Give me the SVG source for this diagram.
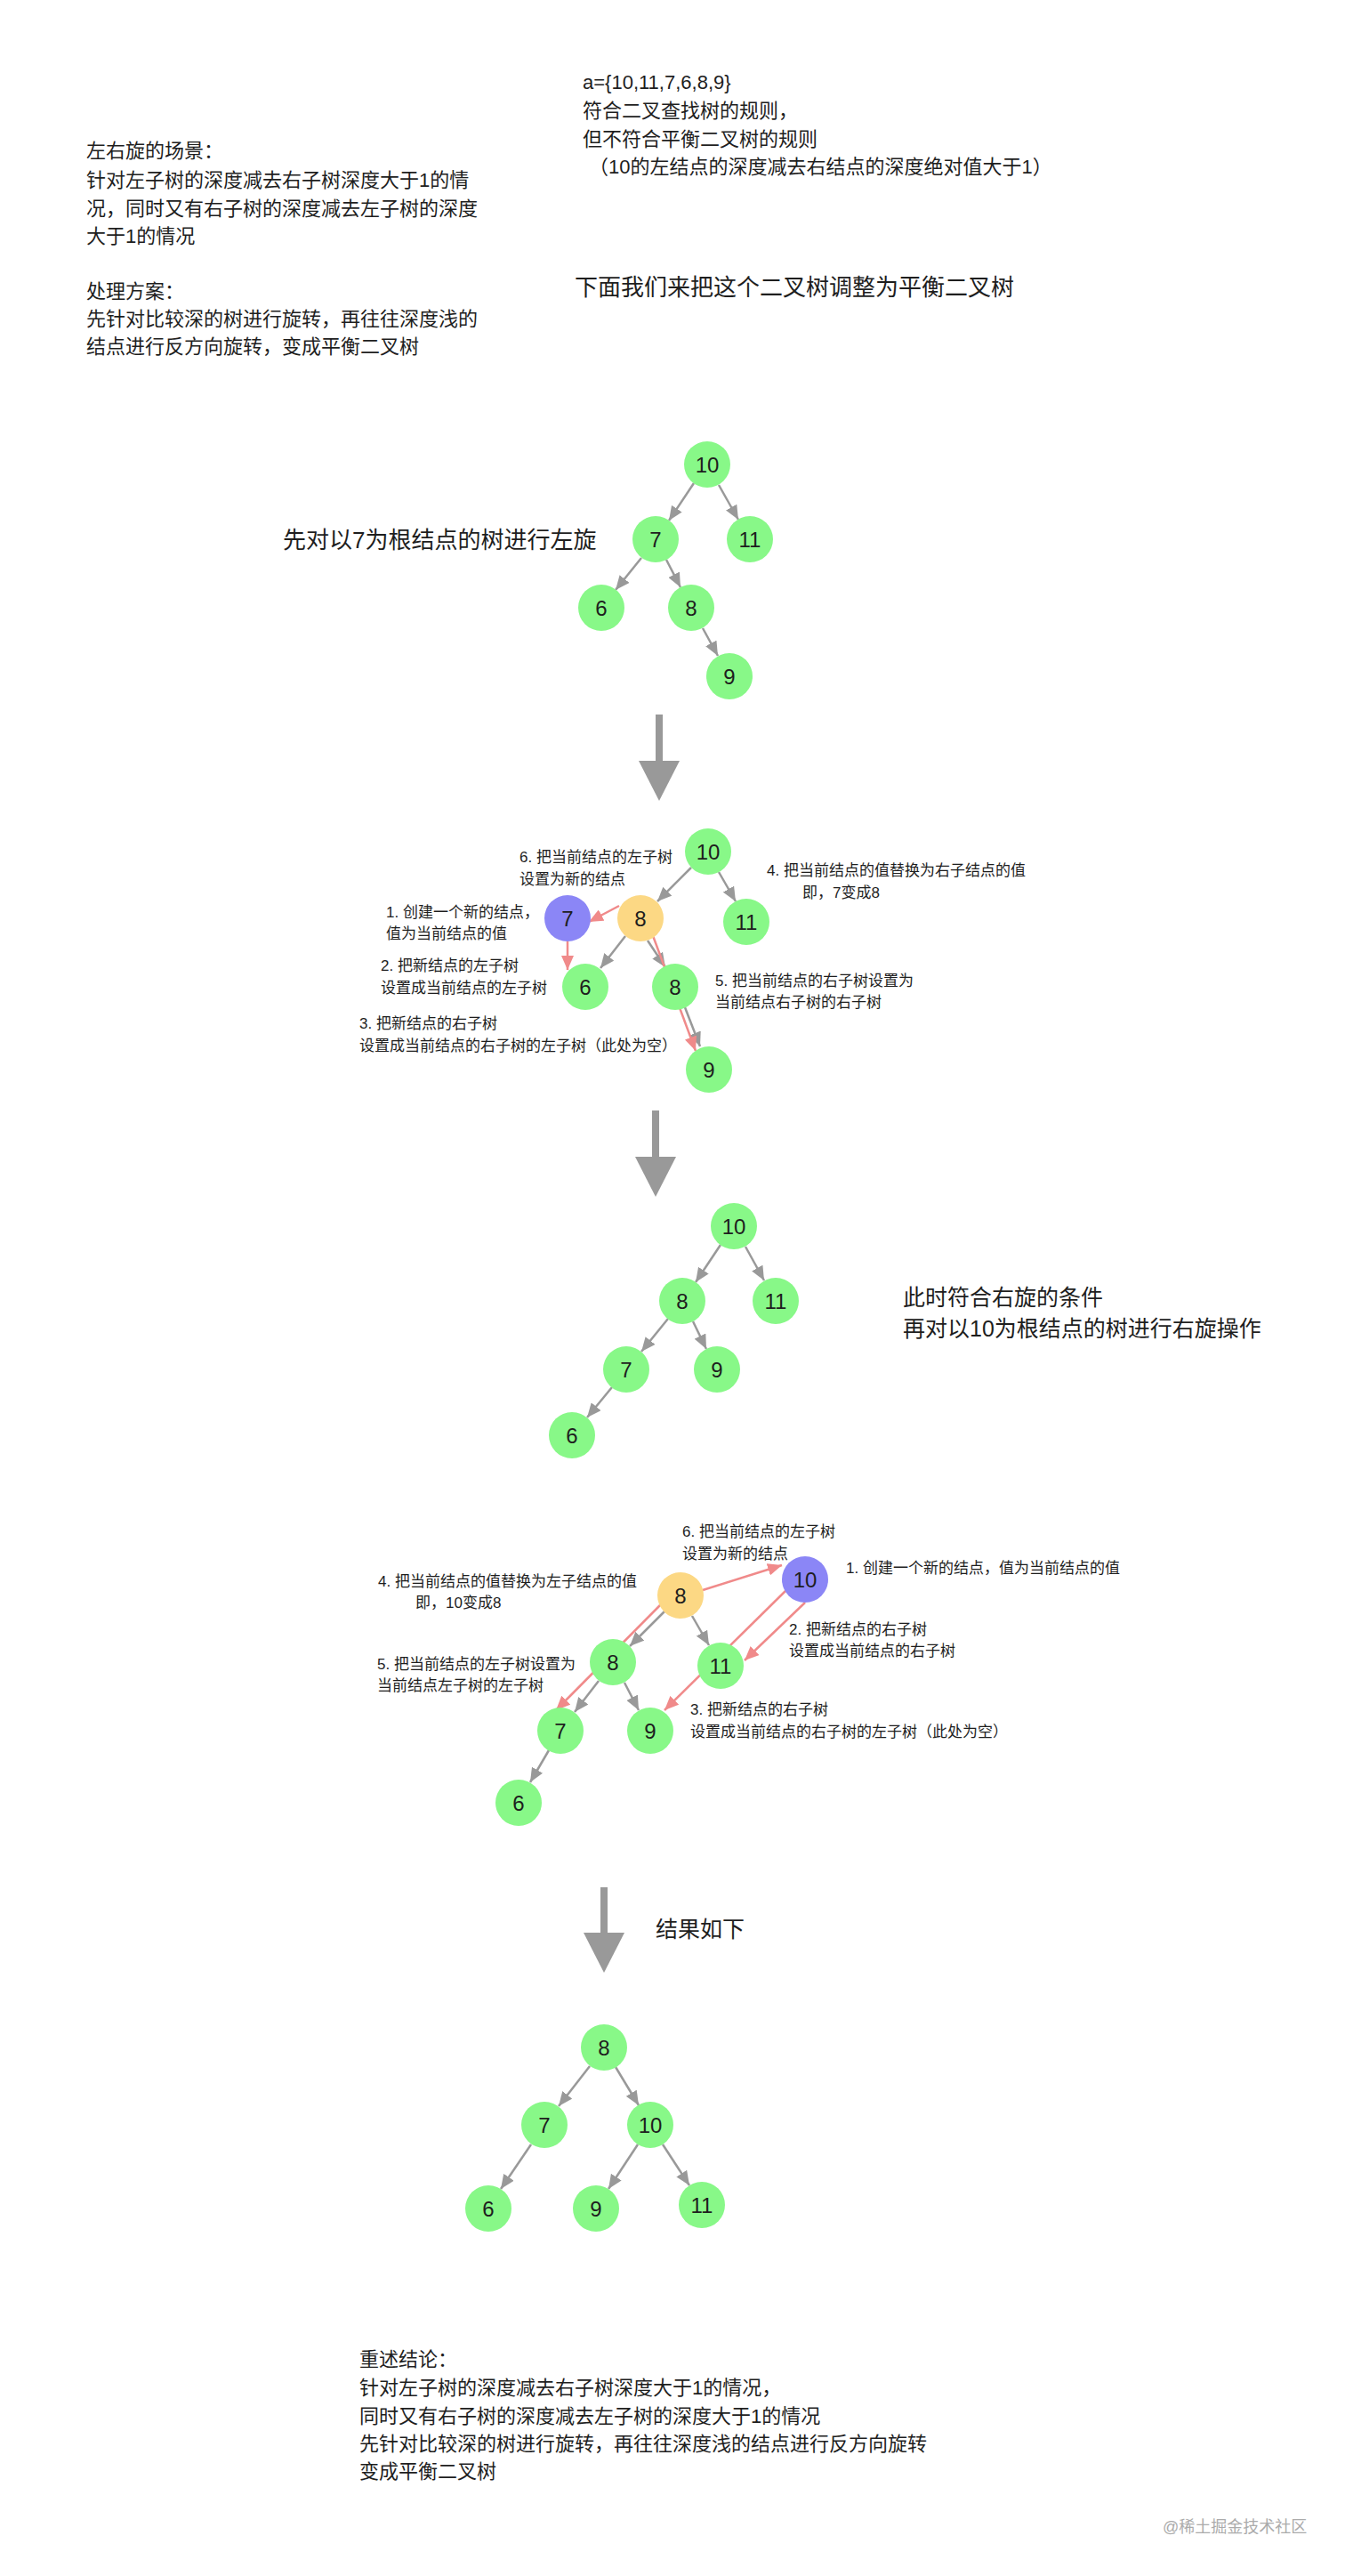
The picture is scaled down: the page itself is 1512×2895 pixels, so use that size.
<svg xmlns="http://www.w3.org/2000/svg" width="1512" height="2895" viewBox="0 0 1512 2895">
<defs>
<style>
text{font-family:"Liberation Sans","Noto Sans CJK SC",sans-serif;fill:#1e1e1e;dominant-baseline:central}
.t22{font-size:22px}
.t17{font-size:17px}
.t25{font-size:25px}
.t26{font-size:26px}
.wm{font-size:18px;fill:#ababab}
.n{font-size:24px;text-anchor:middle}
.g{fill:#88f888}
.p{fill:#8b86f6}
.y{fill:#fcd884}
.e{stroke:#999;stroke-width:2.5;fill:none;marker-end:url(#ag)}
.r{stroke:#f08a8a;stroke-width:2.5;fill:none;marker-end:url(#ar)}
.big{fill:#999}
</style>
<marker id="ag" markerUnits="userSpaceOnUse" markerWidth="16" markerHeight="14" refX="16" refY="7" orient="auto"><path d="M0,0 L16,7 L0,14 z" fill="#999"/></marker>
<marker id="ar" markerUnits="userSpaceOnUse" markerWidth="16" markerHeight="14" refX="16" refY="7" orient="auto"><path d="M0,0 L16,7 L0,14 z" fill="#f08a8a"/></marker>
</defs>
<rect width="1512" height="2895" fill="#fff"/>

<g id="intro-left">
<text class="t22" x="97" y="169">左右旋的场景：</text>
<text class="t22" x="97" y="202">针对左子树的深度减去右子树深度大于1的情</text>
<text class="t22" x="97" y="234">况，同时又有右子树的深度减去左子树的深度</text>
<text class="t22" x="97" y="265">大于1的情况</text>
<text class="t22" x="97" y="327">处理方案：</text>
<text class="t22" x="97" y="358">先针对比较深的树进行旋转，再往往深度浅的</text>
<text class="t22" x="97" y="389">结点进行反方向旋转，变成平衡二叉树</text>
</g>
<g id="intro-right">
<text class="t22" x="655" y="92">a={10,11,7,6,8,9}</text>
<text class="t22" x="655" y="124">符合二叉查找树的规则，</text>
<text class="t22" x="655" y="156">但不符合平衡二叉树的规则</text>
<text class="t22" x="662" y="187">（10的左结点的深度减去右结点的深度绝对值大于1）</text>
<text class="t26" x="646" y="323">下面我们来把这个二叉树调整为平衡二叉树</text>
</g>

<g id="connectors">
<!-- tree 1 -->
<line class="e" x1="780" y1="543" x2="752" y2="585"/>
<line class="e" x1="808" y1="545" x2="830" y2="584"/>
<line class="e" x1="721" y1="627" x2="692" y2="663"/>
<line class="e" x1="749" y1="629" x2="765" y2="660"/>
<line class="e" x1="790" y1="706" x2="807" y2="737"/>
<!-- tree 2 -->
<line class="e" x1="777" y1="975" x2="739" y2="1013"/>
<line class="e" x1="808" y1="980" x2="827" y2="1013"/>
<line class="e" x1="703" y1="1052" x2="675" y2="1088"/>
<line class="e" x1="728" y1="1057" x2="748" y2="1087"/>
<line class="e" x1="768" y1="1127" x2="787" y2="1176"/>
<line class="r" x1="696" y1="1018" x2="662" y2="1036"/>
<line class="r" x1="638" y1="1058" x2="638" y2="1090"/>
<line class="r" x1="733" y1="1049" x2="782" y2="1181"/>
<!-- tree 3 -->
<line class="e" x1="810" y1="1399" x2="782" y2="1441"/>
<line class="e" x1="838" y1="1401" x2="859" y2="1439"/>
<line class="e" x1="751" y1="1482" x2="721" y2="1519"/>
<line class="e" x1="779" y1="1485" x2="794" y2="1516"/>
<line class="e" x1="688" y1="1559" x2="660" y2="1593"/>
<!-- tree 4 -->
<line class="e" x1="747" y1="1811" x2="708" y2="1850"/>
<line class="e" x1="778" y1="1816" x2="797" y2="1849"/>
<line class="e" x1="673" y1="1889" x2="646" y2="1924"/>
<line class="e" x1="702" y1="1891" x2="718" y2="1922"/>
<line class="e" x1="617" y1="1967" x2="596" y2="2003"/>
<line class="r" x1="790" y1="1787" x2="879" y2="1759"/>
<line class="r" x1="905" y1="1801" x2="837" y2="1866"/>
<line class="r" x1="884" y1="1787" x2="747" y2="1922"/>
<line class="r" x1="743" y1="1803" x2="625" y2="1922"/>
<!-- final tree -->
<line class="e" x1="663" y1="2322" x2="628" y2="2367"/>
<line class="e" x1="692" y1="2323" x2="718" y2="2366"/>
<line class="e" x1="597" y1="2410" x2="563" y2="2460"/>
<line class="e" x1="717" y1="2410" x2="684" y2="2460"/>
<line class="e" x1="745" y1="2410" x2="775" y2="2456"/>
</g>

<g id="big-arrows">
<rect class="big" x="737" y="803" width="8" height="54"/><polygon class="big" points="718,855 764,855 741,900"/>
<rect class="big" x="733" y="1248" width="8" height="54"/><polygon class="big" points="714,1300 760,1300 737,1345"/>
<rect class="big" x="675" y="2121" width="8" height="53"/><polygon class="big" points="656,2172 702,2172 679,2217"/>
</g>

<g id="tree1">
<g id="t1n10"><circle class="g" cx="795" cy="522" r="26"/><text class="n" x="795" y="522">10</text></g>
<g id="t1n7"><circle class="g" cx="737" cy="606" r="26"/><text class="n" x="737" y="606">7</text></g>
<g id="t1n11"><circle class="g" cx="843" cy="606" r="26"/><text class="n" x="843" y="606">11</text></g>
<g id="t1n6"><circle class="g" cx="676" cy="683" r="26"/><text class="n" x="676" y="683">6</text></g>
<g id="t1n8"><circle class="g" cx="777" cy="683" r="26"/><text class="n" x="777" y="683">8</text></g>
<g id="t1n9"><circle class="g" cx="820" cy="760" r="26"/><text class="n" x="820" y="760">9</text></g>
<text class="t26" x="318" y="607">先对以7为根结点的树进行左旋</text>
</g>

<g id="tree2">
<g id="t2n10"><circle class="g" cx="796" cy="957" r="26"/><text class="n" x="796" y="957">10</text></g>
<g id="t2n7"><circle class="p" cx="638" cy="1032" r="26"/><text class="n" x="638" y="1032">7</text></g>
<g id="t2n8y"><circle class="y" cx="720" cy="1032" r="26"/><text class="n" x="720" y="1032">8</text></g>
<g id="t2n11"><circle class="g" cx="839" cy="1036" r="26"/><text class="n" x="839" y="1036">11</text></g>
<g id="t2n6"><circle class="g" cx="658" cy="1109" r="26"/><text class="n" x="658" y="1109">6</text></g>
<g id="t2n8"><circle class="g" cx="759" cy="1109" r="26"/><text class="n" x="759" y="1109">8</text></g>
<g id="t2n9"><circle class="g" cx="797" cy="1202" r="26"/><text class="n" x="797" y="1202">9</text></g>
<text class="t17" x="584" y="963">6. 把当前结点的左子树</text>
<text class="t17" x="584" y="988">设置为新的结点</text>
<text class="t17" x="862" y="978">4. 把当前结点的值替换为右子结点的值</text>
<text class="t17" x="902" y="1003">即，7变成8</text>
<text class="t17" x="434" y="1025">1. 创建一个新的结点，</text>
<text class="t17" x="434" y="1049">值为当前结点的值</text>
<text class="t17" x="428" y="1085">2. 把新结点的左子树</text>
<text class="t17" x="428" y="1110">设置成当前结点的左子树</text>
<text class="t17" x="804" y="1102">5. 把当前结点的右子树设置为</text>
<text class="t17" x="804" y="1126">当前结点右子树的右子树</text>
<text class="t17" x="404" y="1150">3. 把新结点的右子树</text>
<text class="t17" x="404" y="1175">设置成当前结点的右子树的左子树（此处为空）</text>
</g>

<g id="tree3">
<g id="t3n10"><circle class="g" cx="825" cy="1378" r="26"/><text class="n" x="825" y="1378">10</text></g>
<g id="t3n8"><circle class="g" cx="767" cy="1462" r="26"/><text class="n" x="767" y="1462">8</text></g>
<g id="t3n11"><circle class="g" cx="872" cy="1462" r="26"/><text class="n" x="872" y="1462">11</text></g>
<g id="t3n7"><circle class="g" cx="704" cy="1539" r="26"/><text class="n" x="704" y="1539">7</text></g>
<g id="t3n9"><circle class="g" cx="806" cy="1539" r="26"/><text class="n" x="806" y="1539">9</text></g>
<g id="t3n6"><circle class="g" cx="643" cy="1613" r="26"/><text class="n" x="643" y="1613">6</text></g>
<text class="t25" x="1015" y="1458">此时符合右旋的条件</text>
<text class="t25" x="1015" y="1493">再对以10为根结点的树进行右旋操作</text>
</g>

<g id="tree4">
<g id="t4n8y"><circle class="y" cx="765" cy="1793" r="26"/><text class="n" x="765" y="1793">8</text></g>
<g id="t4n10"><circle class="p" cx="905" cy="1775" r="26"/><text class="n" x="905" y="1775">10</text></g>
<g id="t4n8"><circle class="g" cx="689" cy="1868" r="26"/><text class="n" x="689" y="1868">8</text></g>
<g id="t4n11"><circle class="g" cx="810" cy="1872" r="26"/><text class="n" x="810" y="1872">11</text></g>
<g id="t4n7"><circle class="g" cx="630" cy="1945" r="26"/><text class="n" x="630" y="1945">7</text></g>
<g id="t4n9"><circle class="g" cx="731" cy="1945" r="26"/><text class="n" x="731" y="1945">9</text></g>
<g id="t4n6"><circle class="g" cx="583" cy="2026" r="26"/><text class="n" x="583" y="2026">6</text></g>
<text class="t17" x="767" y="1721">6. 把当前结点的左子树</text>
<text class="t17" x="767" y="1746">设置为新的结点</text>
<text class="t17" x="951" y="1762">1. 创建一个新的结点，值为当前结点的值</text>
<text class="t17" x="425" y="1777">4. 把当前结点的值替换为左子结点的值</text>
<text class="t17" x="467" y="1801">即，10变成8</text>
<text class="t17" x="887" y="1831">2. 把新结点的右子树</text>
<text class="t17" x="887" y="1855">设置成当前结点的右子树</text>
<text class="t17" x="424" y="1870">5. 把当前结点的左子树设置为</text>
<text class="t17" x="424" y="1894">当前结点左子树的左子树</text>
<text class="t17" x="776" y="1921">3. 把新结点的右子树</text>
<text class="t17" x="776" y="1946">设置成当前结点的右子树的左子树（此处为空）</text>
</g>

<text class="t25" x="737" y="2168">结果如下</text>

<g id="tree5">
<g id="t5n8"><circle class="g" cx="679" cy="2301" r="26"/><text class="n" x="679" y="2301">8</text></g>
<g id="t5n7"><circle class="g" cx="612" cy="2388" r="26"/><text class="n" x="612" y="2388">7</text></g>
<g id="t5n10"><circle class="g" cx="731" cy="2388" r="26"/><text class="n" x="731" y="2388">10</text></g>
<g id="t5n6"><circle class="g" cx="549" cy="2482" r="26"/><text class="n" x="549" y="2482">6</text></g>
<g id="t5n9"><circle class="g" cx="670" cy="2482" r="26"/><text class="n" x="670" y="2482">9</text></g>
<g id="t5n11"><circle class="g" cx="789" cy="2478" r="26"/><text class="n" x="789" y="2478">11</text></g>
</g>

<g id="summary">
<text class="t22" x="404" y="2651">重述结论：</text>
<text class="t22" x="404" y="2683">针对左子树的深度减去右子树深度大于1的情况，</text>
<text class="t22" x="404" y="2715">同时又有右子树的深度减去左子树的深度大于1的情况</text>
<text class="t22" x="404" y="2746">先针对比较深的树进行旋转，再往往深度浅的结点进行反方向旋转</text>
<text class="t22" x="404" y="2777">变成平衡二叉树</text>
</g>
<text class="wm" x="1307" y="2840">@稀土掘金技术社区</text>
</svg>
